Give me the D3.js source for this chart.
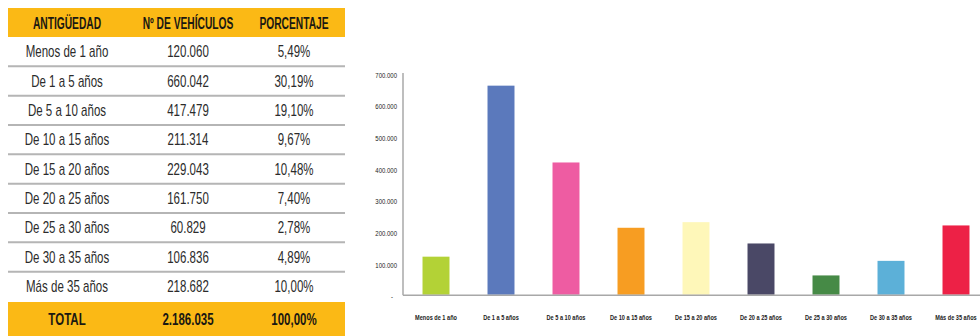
<!DOCTYPE html>
<html>
<head>
<meta charset="utf-8">
<script src="https://cdn.jsdelivr.net/npm/d3@7"></script>
<style>
  html, body { margin: 0; padding: 0; background: #fff; }
  svg { display: block; }
</style>
</head>
<body>
<svg id="chart" width="980" height="336"></svg>
<script>
// Vehicle fleet by age
const categories = ["Menos de 1 año", "De 1 a 5 años", "De 5 a 10 años", "De 10 a 15 años",
  "De 15 a 20 años", "De 20 a 25 años", "De 25 a 30 años", "De 30 a 35 años", "Más de 35 años"];
const vehicles = [120060, 660042, 417479, 211314, 229043, 161750, 60829, 106836, 218682];
const vehicleLabels = ["120.060", "660.042", "417.479", "211.314", "229.043", "161.750", "60.829", "106.836", "218.682"];
const percentLabels = ["5,49%", "30,19%", "19,10%", "9,67%", "10,48%", "7,40%", "2,78%", "4,89%", "10,00%"];
const headers = ["ANTIGÜEDAD", "Nº DE VEHÍCULOS", "PORCENTAJE"];
const totalRow = ["TOTAL", "2.186.035", "100,00%"];
const chartTicks = [0, 100000, 200000, 300000, 400000, 500000, 600000, 700000];
const tickLabels = ["-", "100.000", "200.000", "300.000", "400.000", "500.000", "600.000", "700.000"];
const barColors = ["#b3d236", "#5b79bc", "#ee5ca2", "#f79d22", "#fef7b9", "#4a4866", "#468a46", "#5cb0d8", "#ed2146"];

const svg = d3.select("#chart");
const FONT = "'Liberation Sans', Arial, sans-serif";

// squeeze text horizontally around its anchor to mimic a condensed face
function condense(sel, f) {
  sel.each(function () {
    const t = d3.select(this);
    const x0 = +t.attr("x") || 0, y0 = +t.attr("y") || 0;
    t.attr("x", 0).attr("y", 0).attr("transform", `translate(${x0},${y0}) scale(${f},1)`);
  });
}

/* ---------- table ---------- */
const tLeft = 8, tRight = 345;
const colX = [67, 188, 294];
const yellow = "#fbb915";

const rowScale = d3.scaleBand().domain(d3.range(categories.length)).range([37, 301]);

const table = svg.append("g");

// header band
table.append("rect").attr("x", tLeft).attr("y", 8).attr("width", tRight - tLeft).attr("height", 29)
  .attr("fill", yellow);
// total band
table.append("rect").attr("x", tLeft).attr("y", 302).attr("width", tRight - tLeft).attr("height", 34)
  .attr("fill", yellow);

// row separators
table.selectAll("line.sep").data(d3.range(categories.length - 1)).join("line")
  .attr("class", "sep")
  .attr("x1", tLeft).attr("x2", tRight)
  .attr("y1", i => rowScale(i) + rowScale.bandwidth())
  .attr("y2", i => rowScale(i) + rowScale.bandwidth())
  .attr("stroke", "#b5b5b5").attr("stroke-width", 2);

table.selectAll("text.head").data(headers).join("text")
  .attr("class", "head")
  .attr("x", (d, i) => colX[i]).attr("y", 23)
  .attr("dy", "0.36em")
  .attr("text-anchor", "middle")
  .attr("font-family", FONT).attr("font-weight", "bold").attr("font-size", 16)
  .attr("fill", "#1a1812")
  .text(d => d)
  .call(condense, 0.64);

const rows = categories.map((c, i) => [c, vehicleLabels[i], percentLabels[i]]);
rows.forEach((r, i) => {
  table.selectAll(null).data(r).join("text")
    .attr("x", (d, j) => colX[j])
    .attr("y", rowScale(i) + rowScale.bandwidth() / 2)
    .attr("dy", "0.36em")
    .attr("text-anchor", "middle")
    .attr("font-family", FONT).attr("font-size", 16)
    .attr("fill", "#2b2b2b")
    .text(d => d)
    .call(condense, 0.72);
});

table.selectAll("text.total").data(totalRow).join("text")
  .attr("class", "total")
  .attr("x", (d, i) => colX[i]).attr("y", 319)
  .attr("dy", "0.36em")
  .attr("text-anchor", "middle")
  .attr("font-family", FONT).attr("font-weight", "bold").attr("font-size", 16)
  .attr("fill", "#1a1812")
  .text(d => d)
  .call(condense, 0.72);

/* ---------- bar chart ---------- */
const axisX = 403, baseY = 294.7, topY = 73;
const x = d3.scaleBand().domain(categories).range([403.5, 988.5])
  .paddingInner(0.585).paddingOuter(0.2925);
const y = d3.scaleLinear().domain([0, 700000]).range([baseY, topY]);

const chart = svg.append("g");

chart.selectAll("rect.bar").data(vehicles).join("rect")
  .attr("class", "bar")
  .attr("x", (d, i) => x(categories[i]))
  .attr("y", d => y(d))
  .attr("width", x.bandwidth())
  .attr("height", d => y(0) - y(d))
  .attr("fill", (d, i) => barColors[i]);

// value axis
const yAxis = chart.append("g")
  .attr("transform", `translate(${axisX},0)`)
  .call(d3.axisLeft(y).tickValues(chartTicks).tickSize(0).tickPadding(6)
    .tickFormat((d, i) => tickLabels[i]));
yAxis.select(".domain").remove();
yAxis.selectAll(".tick").filter(d => d === 0).select("text").attr("x", -10);
yAxis.selectAll("text")
  .attr("font-family", FONT).attr("font-size", 7.5).attr("fill", "#222")
  .attr("dy", "0.55em")
  .call(condense, 0.8);

chart.append("line")
  .attr("x1", axisX).attr("x2", axisX).attr("y1", topY).attr("y2", baseY + 0.5)
  .attr("stroke", "#a8a8a8").attr("stroke-width", 1.5);
chart.append("line")
  .attr("x1", axisX).attr("x2", 980).attr("y1", baseY + 0.5).attr("y2", baseY + 0.5)
  .attr("stroke", "#a8a8a8").attr("stroke-width", 1.5);

// category labels
chart.selectAll("text.cat").data(categories).join("text")
  .attr("class", "cat")
  .attr("x", d => x(d) + x.bandwidth() / 2)
  .attr("y", 317)
  .attr("dy", "0.36em")
  .attr("text-anchor", "middle")
  .attr("font-family", FONT).attr("font-size", 8).attr("font-weight", "bold")
  .attr("fill", "#222")
  .text(d => d)
  .call(condense, 0.7);
</script>
</body>
</html>
